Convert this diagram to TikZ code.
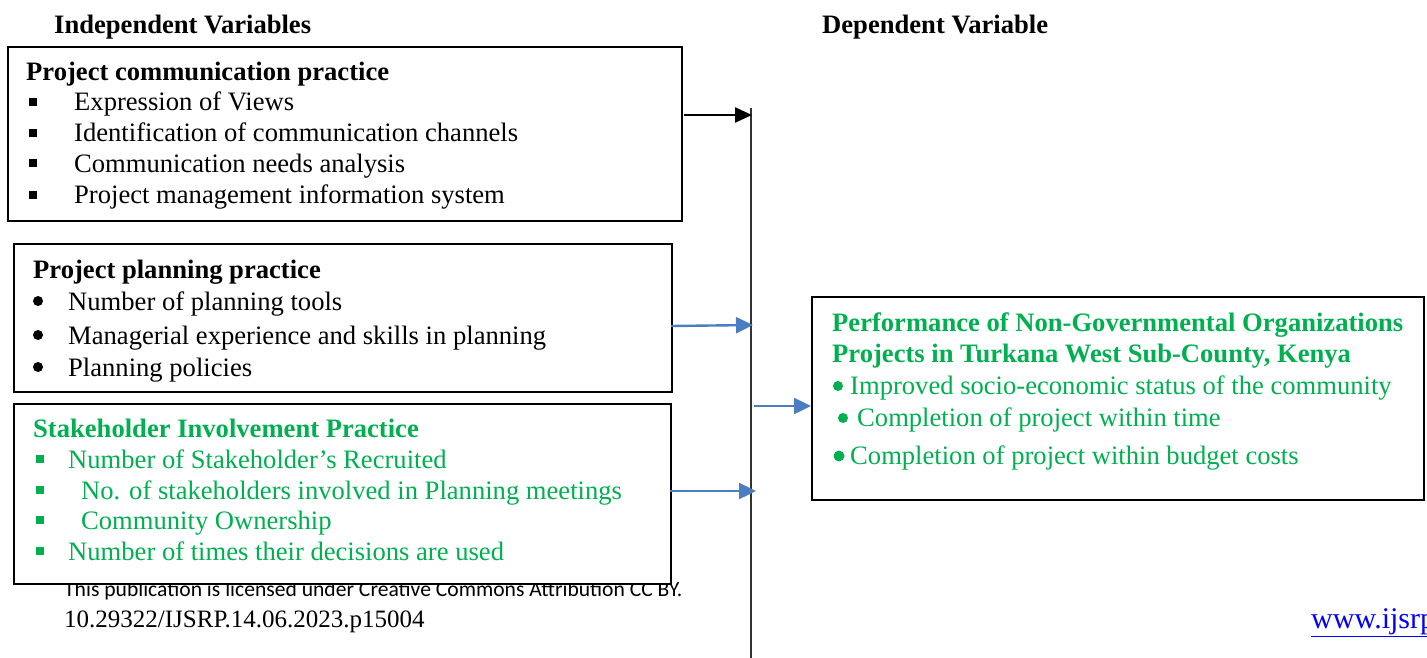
\documentclass[tikz,border=0pt]{standalone}
\usepackage{fontspec}
\setmainfont{Liberation Serif}
\newfontfamily\footsans{Carlito}
\usetikzlibrary{arrows.meta}
\definecolor{grn}{RGB}{0,176,80}
\definecolor{arrblue}{RGB}{74,126,193}
\begin{document}
\begin{tikzpicture}[x=1pt,y=-1pt,
  box/.style={draw=black,line width=2pt,fill=white,anchor=north west,inner sep=0pt},
  txt/.style={anchor=base west,inner sep=0pt,font=\fontsize{26.6}{30}\selectfont},
  hd/.style={txt,font=\fontsize{26.6}{30}\selectfont\bfseries},
  sqb/.style={fill=#1,minimum size=8.5pt,inner sep=0pt,draw=none},
  rdb/.style={circle,fill=#1,minimum size=10pt,inner sep=0pt,draw=none},
  barrow/.style={line width=2.4pt,arrowblue,-{Triangle[length=17pt,width=16pt]}},
  arrowblue/.style={draw=arrblue,fill=arrblue}]
\useasboundingbox (0,0) rectangle (1427,658);
% titles
\node[hd] (t1) at (54,34) {Independent Variables};
\node[hd] (t2) at (822,34) {Dependent Variable};
% footer (drawn under box 3)
\node[anchor=base west,inner sep=0pt,font=\footsans\fontsize{21.6}{24}\selectfont] (f1) at (64,596) {This publication is licensed under Creative Commons Attribution CC BY.};
\node[anchor=base west,inner sep=0pt,font=\fontsize{25}{28}\selectfont] (f2) at (64,627) {10.29322/IJSRP.14.06.2023.p15004};
\node[anchor=base west,inner sep=0pt,text=blue,font=\fontsize{30}{32}\selectfont] (f3) at (1311,628) {\underline{www.ijsrp}};
% vertical line
\coordinate (vt) at (751,108);
\coordinate (vb) at (751,658);
\draw[line width=1.2pt,black!80] (vt) -- (vb);
% box 1
\node[box,minimum width=674pt,minimum height=174pt] (b1) at (7,46) {};
\node[hd] (h1) at (26,81) {Project communication practice};
\foreach \y/\t [count=\i] in {111/Expression of Views,142/Identification of communication channels,172/Communication needs analysis,204/Project management information system}{
  \node[sqb=black] (s1\i) at (33,\y-9) {};
  \node[txt] (i1\i) at (74,\y) {\t};
}
% box 2
\node[box,minimum width=658pt,minimum height=148pt] (b2) at (13,243) {};
\node[hd] (h2) at (33,278) {Project planning practice};
\foreach \y/\t [count=\i] in {310/Number of planning tools,344/Managerial experience and skills in planning,376/Planning policies}{
  \node[rdb=black] (r2\i) at (38,\y-9) {};
  \node[txt] (i2\i) at (68,\y) {\t};
}
% box 3
\node[box,minimum width=657pt,minimum height=180pt] (b3) at (13,403) {};
\node[hd,text=grn] (h3) at (33,437) {Stakeholder Involvement Practice};
\foreach \y/\x/\t [count=\i] in {468/68/Number of Stakeholder’s Recruited,499/81/No. of stakeholders involved in Planning meetings,529/81/Community Ownership,560/68/Number of times their decisions are used}{
  \node[sqb=grn] (s3\i) at (40,\y-9) {};
  \node[txt,text=grn] (i3\i) at (\x,\y) {\t};
}
% box 4
\node[box,minimum width=612pt,minimum height=203pt] (b4) at (811,296) {};
\node[hd,text=grn] (h4a) at (832,331) {Performance of Non-Governmental Organizations};
\node[hd,text=grn] (h4b) at (832,362) {Projects in Turkana West Sub-County, Kenya};
\node[rdb=grn] (r41) at (838,386) {};
\node[txt,text=grn] (i41) at (850,394) {Improved socio-economic status of the community};
\node[rdb=grn] (r42) at (843,418) {};
\node[txt,text=grn] (i42) at (857,426) {Completion of project within time};
\node[rdb=grn,minimum size=11pt] (r43) at (839,456) {};
\node[txt,text=grn] (i43) at (850,464) {Completion of project within budget costs};
% connectors
\coordinate (a1s) at (684,115);
\coordinate (a1e) at (752,115);
\draw[line width=2.4pt,-{Triangle[length=17pt,width=15pt]}] (a1s) -- (a1e);
\coordinate (a2s) at (671,326);
\coordinate (a2e) at (753,325);
\draw[barrow] (a2s) -- (a2e);
\coordinate (a3s) at (754,406);
\draw[barrow] (a3s) -- (b4.west |- a3s);
\coordinate (a4s) at (670,491);
\coordinate (a4e) at (756,491);
\draw[barrow] (a4s) -- (a4e);
\end{tikzpicture}
\end{document}
